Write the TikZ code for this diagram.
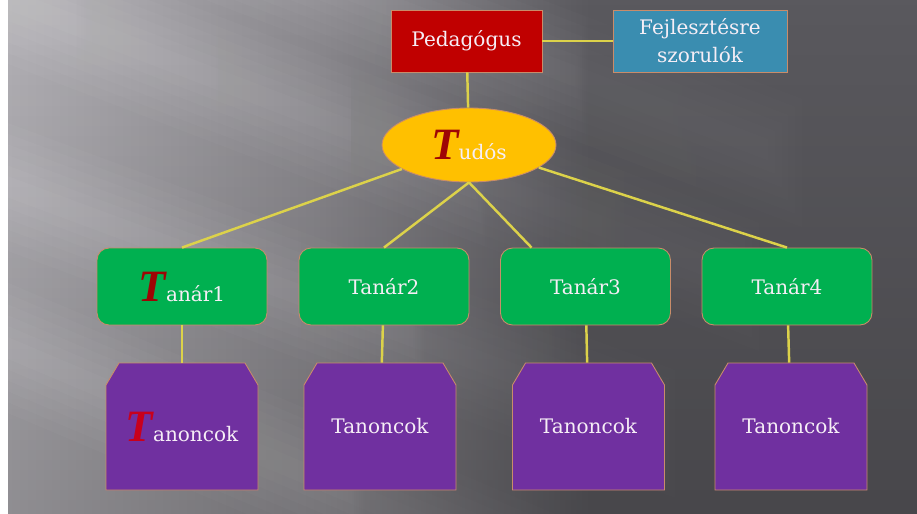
\documentclass[tikz,border=0pt]{standalone}
\usepackage{fontspec}
\setmainfont{DejaVu Serif}
\newfontfamily\tbetu{Liberation Serif}
\usetikzlibrary{shapes.geometric,fadings}
\definecolor{hatterVil}{HTML}{B3B1B6}
\definecolor{hatterKoz}{HTML}{8C8A8F}
\definecolor{hatterSot}{HTML}{5A595E}
\definecolor{vonal}{HTML}{DCD24A}
\definecolor{keret}{HTML}{C98C6A}
\definecolor{piros}{HTML}{C00000}
\definecolor{kek}{HTML}{3A8DB0}
\definecolor{sarga}{HTML}{FFC000}
\definecolor{zold}{HTML}{00B050}
\definecolor{lila}{HTML}{7030A0}
\definecolor{felirat}{HTML}{F6EEF6}
\definecolor{sotetpiros}{HTML}{9E0505}
\definecolor{elenkpiros}{HTML}{C8001C}
\pgfdeclarehorizontalshading{hatter}{100bp}{color(0bp)=(hatterVil); color(25bp)=(hatterVil); color(42bp)=(hatterKoz); color(57bp)=(hatterSot); color(100bp)=(hatterSot)}
\newcommand{\nagyT}[1]{{\tbetu\bfseries\itshape\fontsize{25.5pt}{26pt}\selectfont\color{#1}T}}
\tikzset{
	doboz/.style={draw=keret, line width=0.5pt, text=felirat, font=\fontsize{11.4pt}{16pt}\selectfont, align=center, inner sep=0pt},
	kapcsolo/.style={draw=vonal, line width=1.4pt},
	tanonc/.style={doboz, draw=none, minimum width=3.04cm, minimum height=2.54cm},
}
\begin{document}
\begin{tikzpicture}[x=0.02cm,y=-0.02cm]
		% hatter
		\fill[white] (0,0) rectangle (917,514);
		\begin{scope}
			\clip (8,0) rectangle (917,514);
			\shade[shading=hatter] (8,0) rectangle (917,514);
			\fill[black, opacity=.2, path fading=north] (8,0) rectangle (917,514);
			\foreach \xa/\ya/\xb/\yb in {-200/-80/900/340, -200/110/800/480, -200/260/700/640, 60/-120/900/200}
				\foreach \w in {20,40,...,120}
					\draw[white, opacity=.035, line width=\w*0.2mm, path fading=east] (\xa,\ya) -- (\xb,\yb);
		\end{scope}
		% lila alakzatok
		\foreach \x in {182,380,588.5,791}
			\draw[fill=lila, draw=keret, line width=0.5pt] (\x-76,490) -- (\x-76,385) -- (\x-63,363) -- (\x+63,363) -- (\x+76,385) -- (\x+76,490) -- cycle;
		% csomopontok
		\node[doboz, fill=piros, minimum width=3.02cm, minimum height=1.24cm] (ped) at (466.5,41) {Pedagógus};
		\node[doboz, fill=kek, minimum width=3.48cm, minimum height=1.24cm] (fejl) at (700,41) {Fejlesztésre\\szorulók};
		\node[doboz, ellipse, fill=sarga, minimum width=3.48cm, minimum height=1.48cm] (tudos) at (469,145) {\nagyT{sotetpiros}udós};
		\node[doboz, fill=zold, rounded corners=0.24cm, minimum width=3.4cm, minimum height=1.54cm] (t1) at (182,286.5) {\nagyT{sotetpiros}anár1};
		\foreach \n/\x in {2/384, 3/585.5, 4/787}
			\node[doboz, fill=zold, rounded corners=0.24cm, minimum width=3.4cm, minimum height=1.54cm] (t\n) at (\x,286.5) {Tanár\n};
		\node[tanonc] (p1) at (182,426.5) {\nagyT{elenkpiros}anoncok};
		\foreach \n/\x in {2/380, 3/588.5, 4/791}
			\node[tanonc] (p\n) at (\x,426.5) {Tanoncok};
		% vonalak
		\draw[kapcsolo] (ped) -- (fejl);
		\draw[kapcsolo] (ped) -- (tudos);
		\draw[kapcsolo] (tudos) -- (t1.north);
		\draw[kapcsolo] (tudos.south) -- (t2.north);
		\draw[kapcsolo] (tudos.south) -- ([xshift=-1.08cm]t3.north);
		\draw[kapcsolo] (tudos) -- (t4.north);
		\foreach \n in {1,...,4}
			\draw[kapcsolo] (t\n) -- (p\n);
	\end{tikzpicture}
\end{document}
